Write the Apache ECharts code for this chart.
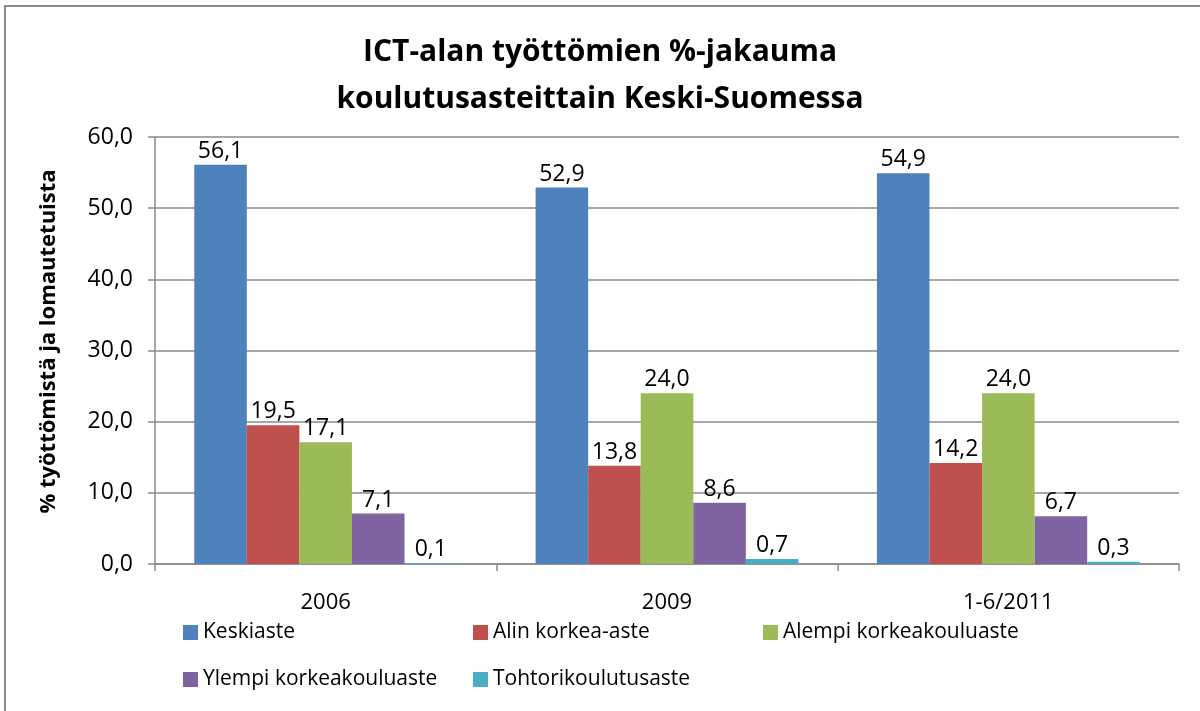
<!DOCTYPE html>
<html>
<head>
<meta charset="utf-8">
<script src="https://cdn.jsdelivr.net/npm/echarts@6/dist/echarts.min.js"></script>
<style>
  html, body { margin: 0; padding: 0; background: #fff; }
  #root { width: 1200px; height: 711px; }
</style>
</head>
<body>
<div id="root"></div>
<script>
const categories = ['2006', '2009', '1-6/2011']
const seriesNames = ['Keskiaste', 'Alin korkea-aste', 'Alempi korkeakouluaste', 'Ylempi korkeakouluaste', 'Tohtorikoulutusaste']
const keskiaste = [56.1, 52.9, 54.9]
const alinKorkea = [19.5, 13.8, 14.2]
const alempiKorkea = [17.1, 24.0, 24.0]
const ylempiKorkea = [7.1, 8.6, 6.7]
const tohtori = [0.1, 0.7, 0.3]
const colors = ['#4F81BD', '#C0504D', '#9BBB59', '#8064A2', '#4BACC6']

const font = '"Open Sans", "Noto Sans", sans-serif'
const fmt = v => v.toFixed(1).replace('.', ',')

const chart = echarts.init(document.getElementById('root'))

const values = [keskiaste, alinKorkea, alempiKorkea, ylempiKorkea, tohtori]
const series = seriesNames.map((name, i) => ({
    name: name,
    type: 'bar',
    data: values[i],
    barGap: 0,
    barCategoryGap: '23%',
    itemStyle: { color: colors[i] },
    label: {
        show: true,
        position: 'top',
        distance: 2,
        color: '#000',
        fontFamily: font,
        fontSize: 23,
        formatter: p => fmt(p.value)
    }
}))

chart.setOption({
    animation: false,
    textStyle: { fontFamily: font },
    title: {
        text: 'ICT-alan työttömien %-jakauma\nkoulutusasteittain Keski-Suomessa',
        left: 'center',
        top: 24,
        textStyle: {
            fontFamily: font,
            fontSize: 30,
            fontWeight: 'bold',
            color: '#000',
            lineHeight: 47
        }
    },
    graphic: [{
        type: 'rect',
        shape: { x: 5, y: 6, width: 1400, height: 900 },
        style: { fill: 'none', stroke: '#8a8a8a', lineWidth: 2 },
        silent: true
    }],
    legend: {
        data: seriesNames,
        left: 178,
        top: 614,
        width: 900,
        itemWidth: 15,
        itemHeight: 15,
        itemGap: 20,
        icon: 'rect',
        textStyle: {
            fontFamily: font,
            fontSize: 21,
            color: '#000',
            width: 250,
            lineHeight: 27
        }
    },
    grid: { left: 155, right: 21, top: 137, bottom: 147 },
    xAxis: {
        type: 'category',
        data: categories,
        axisLine: { lineStyle: { color: '#8a8a8a', width: 1.5 } },
        axisTick: { show: true, length: 7, lineStyle: { color: '#8a8a8a', width: 1.5 } },
        axisLabel: { color: '#000', fontSize: 22, fontFamily: font, margin: 28 }
    },
    yAxis: {
        type: 'value',
        min: 0,
        max: 60,
        interval: 10,
        name: '% työttömistä ja lomautetuista',
        nameLocation: 'middle',
        nameGap: 95,
        nameTextStyle: { fontFamily: font, fontSize: 22, fontWeight: 'bold', color: '#000', padding: [0, 0, 0, 18] },
        axisLine: { show: true, lineStyle: { color: '#8a8a8a', width: 1.5 } },
        axisTick: { show: true, length: 7, lineStyle: { color: '#8a8a8a', width: 1.5 } },
        splitLine: { lineStyle: { color: '#8a8a8a', width: 1.5 } },
        axisLabel: { color: '#000', fontSize: 23, fontFamily: font, margin: 22, formatter: v => fmt(v) }
    },
    series: series
})
</script>
</body>
</html>
